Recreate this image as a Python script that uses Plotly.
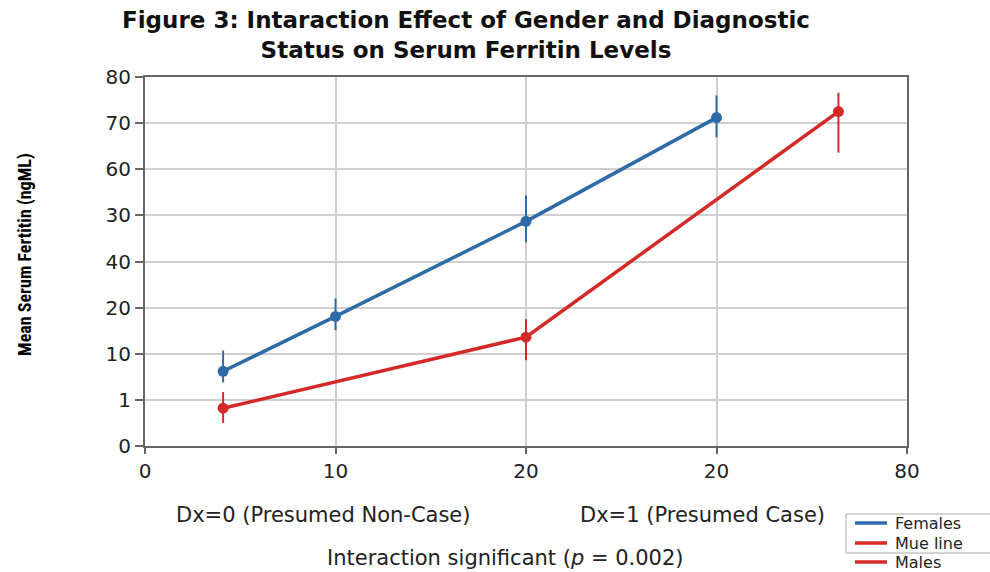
import plotly.graph_objects as go

# ---- data (x in tick-position units, y in tick-position units) ----
x_tick_pos = [0, 1, 2, 3, 4]
x_tick_text = ["0", "10", "20", "20", "80"]
y_tick_pos = [0, 1, 2, 3, 4, 5, 6, 7, 8]
y_tick_text = ["0", "1", "10", "20", "40", "30", "60", "70", "80"]

fem_x = [0.41, 1.0, 2.0, 3.0]
fem_y = [1.62, 2.81, 4.87, 7.12]
fem_err_up = [0.45, 0.39, 0.56, 0.48]
fem_err_dn = [0.24, 0.30, 0.45, 0.43]

male_x = [0.41, 2.0, 3.64]
male_y = [0.82, 2.36, 7.25]
male_err_up = [0.35, 0.39, 0.41]
male_err_dn = [0.32, 0.50, 0.89]

legend_labels = ["Females", "Mue line", "Males"]
BLUE = "#2f6aa8"
RED = "#d42a27"
legend_colors = [BLUE, RED, RED]

title_lines = ["Figure 3: Intaraction Effect of Gender and Diagnostic",
               "Status on Serum Ferritin Levels"]

W, H = 990, 572
L, R, T, B = 145, 907, 77, 446

WIDE = "DejaVu Sans, Verdana, sans-serif"


def px(x):
    return (x - L) / (R - L)


def py(y):
    return (B - y) / (B - T)


fig = go.Figure()
fig.add_trace(go.Scatter(
    x=fem_x, y=fem_y, mode="lines+markers", name="Females",
    line=dict(color=BLUE, width=3.5),
    marker=dict(color=BLUE, size=11),
    error_y=dict(type="data", symmetric=False, array=fem_err_up, arrayminus=fem_err_dn,
                 color=BLUE, thickness=2, width=0),
    showlegend=False,
))
fig.add_trace(go.Scatter(
    x=male_x, y=male_y, mode="lines+markers", name="Males",
    line=dict(color=RED, width=3.5),
    marker=dict(color=RED, size=11),
    error_y=dict(type="data", symmetric=False, array=male_err_up, arrayminus=male_err_dn,
                 color=RED, thickness=2, width=0),
    showlegend=False,
))

AX = "#666666"
GRID = "#cfcfcf"
tickfont = dict(family=WIDE, size=20, color="#222")

fig.update_xaxes(
    range=[0, 4], tickmode="array", tickvals=x_tick_pos, ticktext=x_tick_text,
    showgrid=True, gridcolor=GRID, gridwidth=1.5,
    showline=True, linecolor=AX, linewidth=2, mirror=True,
    ticks="outside", ticklen=6, tickcolor=AX, tickwidth=2,
    tickfont=tickfont, zeroline=False,
)
fig.update_yaxes(
    range=[0, 8], tickmode="array", tickvals=y_tick_pos, ticktext=y_tick_text,
    showgrid=True, gridcolor=GRID, gridwidth=1.5,
    showline=True, linecolor=AX, linewidth=2, mirror=True,
    ticks="outside", ticklen=8, tickcolor=AX, tickwidth=1.5,
    tickfont=tickfont, zeroline=False,
)

annots = []
annots.append(dict(
    text="<b>" + "<br>".join(title_lines) + "</b>",
    x=px(466), y=py(35), xref="paper", yref="paper", showarrow=False,
    xanchor="center", yanchor="middle", align="center",
    font=dict(family=WIDE, size=23, color="#111"),
))
annots.append(dict(
    text="<b>Mean Serum Fertitin (ngML)</b>", textangle=-90,
    x=px(25), y=py(255), xref="paper", yref="paper", showarrow=False,
    xanchor="center", yanchor="middle",
    font=dict(family="Liberation Sans Narrow, Arial Narrow, Roboto Condensed, sans-serif", size=18, color="#000"),
))
note_font = dict(family=WIDE, size=21, color="#222")
annots.append(dict(text="Dx=0 (Presumed Non-Case)", x=px(323), y=py(515), xref="paper", yref="paper",
                   showarrow=False, xanchor="center", yanchor="middle", font=note_font))
annots.append(dict(text="Dx=1 (Presumed Case)", x=px(702), y=py(515), xref="paper", yref="paper",
                   showarrow=False, xanchor="center", yanchor="middle", font=note_font))
annots.append(dict(text="Interaction significant (<i>p</i> = 0.002)", x=px(505), y=py(558), xref="paper",
                   yref="paper", showarrow=False, xanchor="center", yanchor="middle", font=note_font))

shapes = []
shapes.append(dict(type="rect", xref="paper", yref="paper", x0=px(846), x1=px(1000), y0=py(514), y1=py(553),
                   line=dict(color="#aaaaaa", width=1), fillcolor="rgba(0,0,0,0)"))
leg_y = [523, 543, 562]
for lab, col, yy in zip(legend_labels, legend_colors, leg_y):
    shapes.append(dict(type="line", xref="paper", yref="paper", x0=px(855), x1=px(887), y0=py(yy), y1=py(yy),
                       line=dict(color=col, width=3.5)))
    annots.append(dict(text=lab, x=px(893), y=py(yy), xref="paper", yref="paper", showarrow=False,
                       xanchor="left", yanchor="middle",
                       font=dict(family=WIDE, size=16, color="#222")))

fig.update_layout(
    width=W, height=H,
    margin=dict(l=L, r=W - R, t=T, b=H - B),
    paper_bgcolor="white", plot_bgcolor="white",
    annotations=annots, shapes=shapes, showlegend=False,
)

fig.write_html("out.html")
